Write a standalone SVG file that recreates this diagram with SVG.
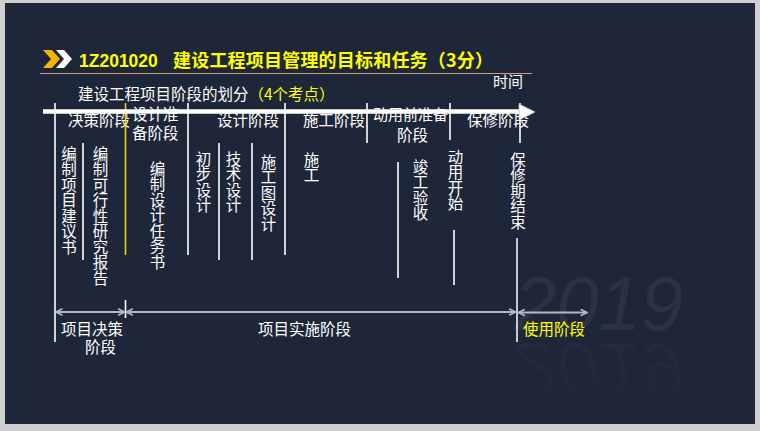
<svg xmlns="http://www.w3.org/2000/svg" width="760" height="431" viewBox="0 0 760 431">
<style>
text{font-family:"Noto Sans CJK SC","Liberation Sans",sans-serif;}
text.lat{font-family:"Liberation Sans",Arial,sans-serif;}
.w{fill:#ffffff;font-size:15.5px;}
.y{fill:#ffff00;}
.v{writing-mode:vertical-rl;fill:#ffffff;font-size:15.5px;}
.vl{stroke:#ffffff;stroke-width:1.6;}
.da{stroke:#b4b8c2;stroke-width:2;fill:none;marker-start:url(#os);marker-end:url(#oe);}
</style>
<defs>
<marker id="oe" viewBox="0 0 10 10" refX="9" refY="5" markerWidth="4" markerHeight="4" orient="auto" markerUnits="strokeWidth">
<polyline points="1,1 9,5 1,9" fill="none" stroke="#b4b8c2" stroke-width="2"/>
</marker>
<marker id="os" viewBox="0 0 10 10" refX="1" refY="5" markerWidth="4" markerHeight="4" orient="auto" markerUnits="strokeWidth">
<polyline points="9,1 1,5 9,9" fill="none" stroke="#b4b8c2" stroke-width="2"/>
</marker>
<linearGradient id="refl" x1="0" y1="0" x2="0" y2="1">
<stop offset="0" stop-color="#1e2639"/>
<stop offset="1" stop-color="#242c3f"/>
</linearGradient>
</defs>
<rect x="0" y="0" width="760" height="431" fill="#cfcfcf"/>
<rect x="5" y="3" width="750" height="421" fill="#1e2639"/>
<g id="watermark">
<text class="lat" x="514" y="330" style="font-style:italic;font-size:76px;fill:#2a3346">2019</text>
<text class="lat" x="514" y="-344" transform="scale(1,-1)" style="font-style:italic;font-size:76px" fill="url(#refl)">2019</text>
</g>
<g id="header">
<polygon points="43,50 52,50 60,59 52,68 43,68 51,59" fill="#f2b600"/>
<polygon points="56,50 64,50 72,59 64,68 56,68 64,59" fill="#ffffff"/>
<text class="lat" x="79" y="67" style="font-weight:bold;font-size:17.5px;fill:#ffff00">1Z201020</text>
<text x="173" y="67" textLength="320" lengthAdjust="spacing" style="font-weight:bold;font-size:18px;fill:#ffff00">建设工程项目管理的目标和任务（3分）</text>
<line x1="40" y1="73.5" x2="532" y2="73.5" stroke="#c9a46c" stroke-width="1.2"/>
</g>
<g id="time-label"><text class="w" x="493" y="87" style="font-size:15px">时间</text></g>
<g id="subtitle"><text class="w" x="78" y="100">建设工程项目阶段的划分<tspan class="y">（4个考点）</tspan></text></g>
<g id="stage-decision"><text class="w" x="68" y="126">决策阶段</text></g>
<g id="stage-design-prep"><text class="w" x="132" y="120">设计准</text><text class="w" x="132" y="139">备阶段</text></g>
<g id="stage-design"><text class="w" x="217" y="126">设计阶段</text></g>
<g id="stage-construction"><text class="w" x="303" y="126">施工阶段</text></g>
<g id="stage-pre-use"><text class="w" x="373" y="120" style="font-size:15px">动用前准备</text><text class="w" x="397" y="141">阶段</text></g>
<g id="stage-warranty"><text class="w" x="467" y="126">保修阶段</text></g>
<g id="item-proposal"><text class="v" x="69" y="146">编制项目建议书</text></g>
<g id="item-feasibility"><text class="v" x="100.5" y="146">编制可行性研究报告</text></g>
<g id="item-design-brief"><text class="v" x="157.5" y="161">编制设计任务书</text></g>
<g id="item-prelim-design"><text class="v" x="203.5" y="151">初步设计</text></g>
<g id="item-tech-design"><text class="v" x="233.5" y="151">技术设计</text></g>
<g id="item-construction-drawing"><text class="v" x="268.5" y="154">施工图设计</text></g>
<g id="item-construction"><text class="v" x="311.5" y="152">施工</text></g>
<g id="item-acceptance"><text class="v" x="420.5" y="159">竣工验收</text></g>
<g id="item-start-use"><text class="v" x="455.5" y="149">动用开始</text></g>
<g id="item-warranty-end"><text class="v" x="518" y="152">保修期结束</text></g>
<g id="phase-decision"><text class="w" x="61" y="335">项目决策</text><text class="w" x="85" y="353">阶段</text></g>
<g id="phase-implementation"><text class="w" x="258" y="335">项目实施阶段</text></g>
<g id="phase-use"><text class="w y" x="523" y="335">使用阶段</text></g>
<g id="connectors">
<line class="vl" x1="55" y1="103" x2="55" y2="342"/>
<line class="vl" x1="83" y1="143" x2="83" y2="260"/>
<line x1="125.5" y1="103" x2="125.5" y2="255" stroke="#e6d200" stroke-width="1.6"/>
<line class="vl" x1="188" y1="103" x2="188" y2="255"/>
<line class="vl" x1="219" y1="143" x2="219" y2="260"/>
<line class="vl" x1="252" y1="143" x2="252" y2="260"/>
<line class="vl" x1="285" y1="103" x2="285" y2="255"/>
<line class="vl" x1="367" y1="103" x2="367" y2="143"/>
<line class="vl" x1="398" y1="162" x2="398" y2="278"/>
<line class="vl" x1="450" y1="103" x2="450" y2="140"/>
<line class="vl" x1="454" y1="230" x2="454" y2="285"/>
<line class="vl" x1="520" y1="103" x2="520" y2="143"/>
<line x1="517" y1="238" x2="517" y2="342" stroke="#d8dbe2" stroke-width="1.8"/>
<line x1="43" y1="111.5" x2="520" y2="111.5" stroke="#ffffff" stroke-width="4.5"/>
<polygon points="519,104 535,112 519,120" fill="#ffffff" stroke="#c0c4cc" stroke-width="0.8"/>
<line class="vl" x1="125.5" y1="300" x2="125.5" y2="318"/>
<line class="da" x1="56" y1="312" x2="124.5" y2="312"/>
<line class="da" x1="126.5" y1="312" x2="515.5" y2="312"/>
<line class="da" x1="518.5" y1="312.5" x2="587" y2="312.5"/>
</g>
</svg>
